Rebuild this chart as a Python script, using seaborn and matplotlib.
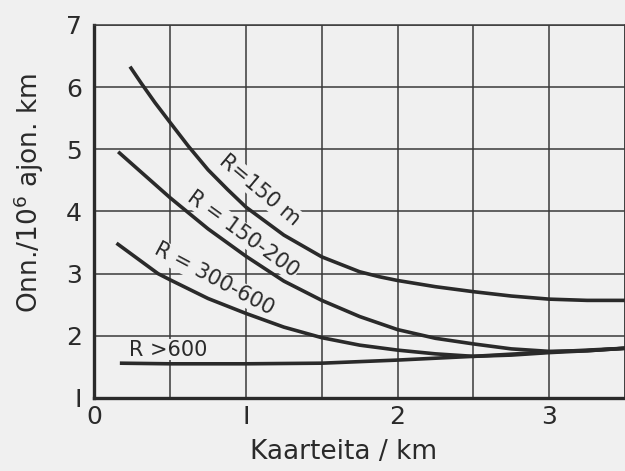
import numpy as np
import pandas as pd
import matplotlib
matplotlib.use('Agg')
import matplotlib.pyplot as plt
import seaborn as sns

# curve values
x_r150 = [0.235, 0.31, 0.4, 0.5, 0.62, 0.75, 0.88, 1.0, 1.25, 1.5, 1.75, 1.88, 2.0, 2.25, 2.5, 2.75, 3.0, 3.25, 3.5]
y_r150 = [6.33, 6.06, 5.75, 5.43, 5.05, 4.67, 4.35, 4.07, 3.62, 3.27, 3.03, 2.95, 2.89, 2.79, 2.71, 2.64, 2.59, 2.57, 2.57]

x_r150_200 = [0.157, 0.5, 0.75, 1.0, 1.25, 1.5, 1.75, 2.0, 2.25, 2.5, 2.75, 3.0, 3.25, 3.5]
y_r150_200 = [4.96, 4.22, 3.72, 3.28, 2.88, 2.57, 2.31, 2.10, 1.96, 1.87, 1.79, 1.75, 1.76, 1.80]

x_r300_600 = [0.146, 0.42, 0.5, 0.75, 1.0, 1.25, 1.5, 1.75, 2.0, 2.25, 2.5, 2.75, 3.0, 3.25, 3.5]
y_r300_600 = [3.49, 3.0, 2.90, 2.60, 2.36, 2.14, 1.97, 1.85, 1.77, 1.71, 1.67, 1.69, 1.73, 1.76, 1.80]

x_r600 = [0.168, 0.5, 1.0, 1.5, 2.0, 2.5, 3.0, 3.5]
y_r600 = [1.56, 1.55, 1.55, 1.56, 1.61, 1.67, 1.74, 1.80]

curve_names = ['R=150', 'R=150-200', 'R=300-600', 'R>600']
x_ticks = [0, 1, 2, 3]
y_ticks = [1, 2, 3, 4, 5, 6, 7]

frames = []
for name, xs, ys in zip(curve_names,
                        [x_r150, x_r150_200, x_r300_600, x_r600],
                        [y_r150, y_r150_200, y_r300_600, y_r600]):
    frames.append(pd.DataFrame({'x': xs, 'y': ys, 'curve': name}))
df = pd.concat(frames, ignore_index=True)

bg = '#f0f0f0'
ink = '#2a2a2a'

sns.set_style('white')
plt.rcParams['font.family'] = ['DejaVu Sans']

fig = plt.figure(figsize=(6.25, 4.71), dpi=100, facecolor=bg)
ax = fig.add_axes([0.151, 0.155, 0.849, 0.792])
ax.set_facecolor(bg)

sns.lineplot(data=df, x='x', y='y', hue='curve', palette=[ink] * 4,
             estimator=None, sort=False, legend=False, lw=2.6, ax=ax, zorder=3,
             solid_joinstyle='round', solid_capstyle='butt')

ax.set_xlim(0, 3.5)
ax.set_ylim(1, 7)
ax.set_xticks(np.arange(0, 3.51, 0.5), minor=True)
ax.set_xticks(x_ticks)
ax.set_yticks(y_ticks)
ax.set_xticklabels(['0', 'I', '2', '3'])
ax.set_yticklabels(['I', '2', '3', '4', '5', '6', '7'])
ax.grid(True, which='both', axis='x', color='#3a3a3a', lw=1.1)
ax.grid(True, which='major', axis='y', color='#3a3a3a', lw=1.1)
ax.set_axisbelow(True)
ax.tick_params(which='both', length=0, labelsize=18, colors=ink)
ax.tick_params(axis='x', pad=5)
ax.tick_params(axis='y', pad=9)

for side in ['left', 'bottom']:
    ax.spines[side].set_linewidth(2.4)
    ax.spines[side].set_color(ink)
for side in ['top', 'right']:
    ax.spines[side].set_linewidth(1.1)
    ax.spines[side].set_color('#3a3a3a')

ax.set_xlabel('Kaarteita / km', fontsize=19, color=ink)
ax.set_ylabel('Onn./10$^6$ ajon. km', fontsize=19, color=ink)
ax.xaxis.set_label_coords(0.47, -0.11)
ax.yaxis.set_label_coords(-0.092, 0.55)

box = dict(facecolor=bg, edgecolor='none', pad=0.6)
ax.text(1.09, 4.34, 'R=150 m', rotation=-40, fontsize=15, color=ink,
        ha='center', va='center', bbox=box, zorder=2.5)
ax.text(0.98, 3.64, 'R = 150-200', rotation=-36, fontsize=15, color=ink,
        ha='center', va='center', bbox=box, zorder=2.5)
ax.text(0.79, 2.91, 'R = 300-600', rotation=-28, fontsize=15, color=ink,
        ha='center', va='center', bbox=box, zorder=2.5)
ax.text(0.485, 1.78, 'R >600', fontsize=15, color=ink,
        ha='center', va='center', bbox=box, zorder=2.5)

fig.savefig('out.png', dpi=100, facecolor=bg)
